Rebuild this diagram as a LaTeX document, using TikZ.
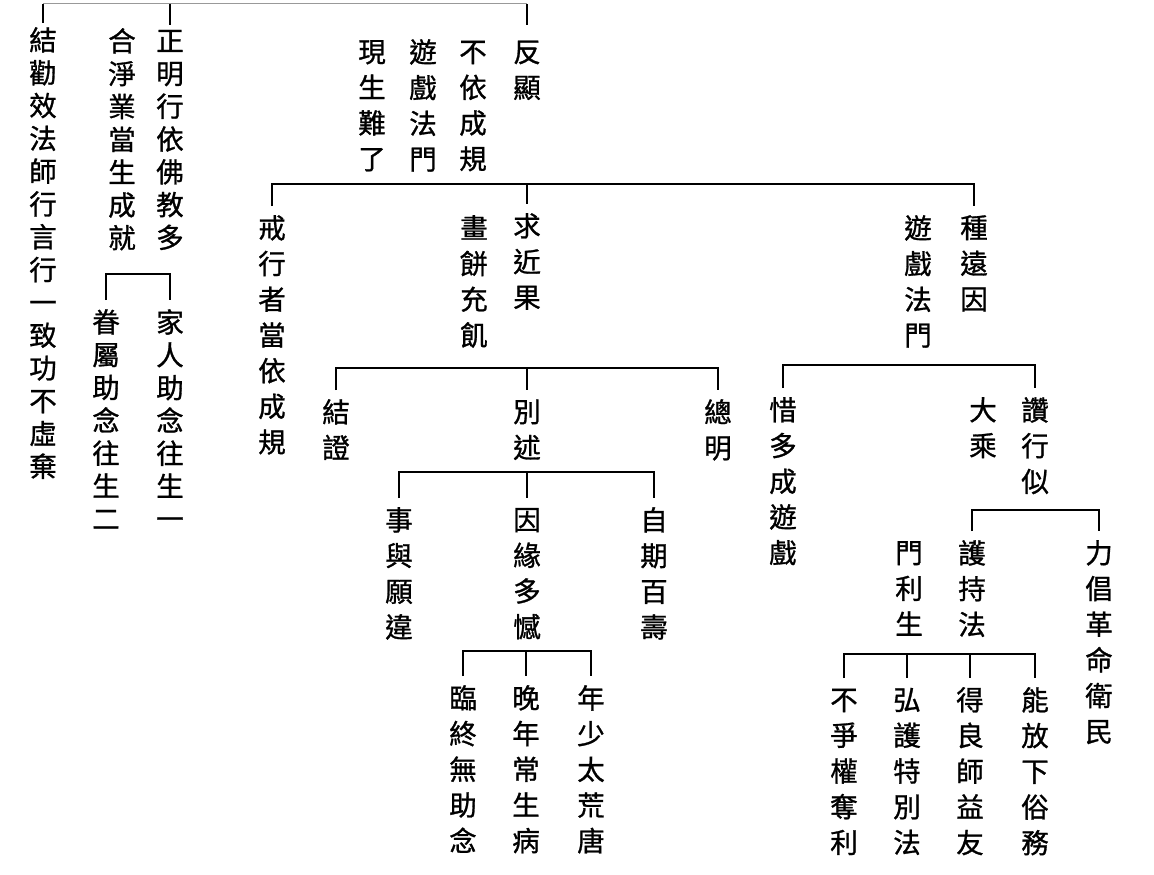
\documentclass[tikz,border=0pt]{standalone}
\usepackage{fontspec}
\newfontfamily\cjk[FakeBold=1]{Noto Sans CJK TC}
\newcommand\vstrut{\vrule height .83em depth .12em width 0pt}
\newcommand\vcol[1]{\vcolA#1\relax}
\def\vcolA#1{\vstrut#1\vcolB}
\def\vcolB#1{\ifx\relax#1\let\next\relax\else\def\next{\\\vstrut#1\vcolB}\fi\next}
\begin{document}
\begin{tikzpicture}[x=1pt,y=-1pt,
	colnode/.style={inner sep=0pt,anchor=north,align=center,font=\cjk\fontsize{27.5pt}{35.7pt}\selectfont},
	tight/.style={font=\cjk\fontsize{27.5pt}{32.8pt}\selectfont},
	bar/.style={line width=1.5pt,shorten <=9pt,shorten >=9pt},
	tick/.style={line width=1.5pt,shorten >=9pt}]
	\useasboundingbox (0,0) rectangle (1154,875);
	
	% left branches
	\node[colnode,tight] (jie) at (43,27) {\vcol{結勸效法師行言行一致功不虛棄}};
	\node[colnode,tight] (zheng) at (170,28) {\vcol{正明行依佛教多}};
	\node[colnode,tight] (he) at (122,28) {\vcol{合淨業當生成就}};
	\node[colnode,tight] (jia) at (170,309) {\vcol{家人助念往生一}};
	\node[colnode,tight] (juan) at (106,309) {\vcol{眷屬助念往生二}};
	
	% fan xian
	\node[colnode] (fan) at (527,39) {\vcol{反顯}};
	\node[colnode] (buyi) at (473,39) {\vcol{不依成規}};
	\node[colnode] (youxi) at (423,39) {\vcol{遊戲法門}};
	\node[colnode] (xiansheng) at (372,39) {\vcol{現生難了}};
	
	\node[colnode] (jiexing) at (272,215) {\vcol{戒行者當依成規}};
	\node[colnode] (qiu) at (527,213) {\vcol{求近果}};
	\node[colnode] (hua) at (474,215) {\vcol{畫餅充飢}};
	\node[colnode] (zhong) at (974,215) {\vcol{種遠因}};
	\node[colnode] (youxib) at (918,215) {\vcol{遊戲法門}};
	
	% qiu jin guo
	\node[colnode] (jiezheng) at (336,399) {\vcol{結證}};
	\node[colnode] (bieshu) at (527,399) {\vcol{別述}};
	\node[colnode] (zongming) at (718,399) {\vcol{總明}};
	
	\node[colnode] (shiyu) at (399,507) {\vcol{事與願違}};
	\node[colnode] (yinyuan) at (527,507) {\vcol{因緣多憾}};
	\node[colnode] (ziqi) at (654,507) {\vcol{自期百壽}};
	
	\node[colnode] (linzhong) at (463,685) {\vcol{臨終無助念}};
	\node[colnode] (wannian) at (526,685) {\vcol{晚年常生病}};
	\node[colnode] (nianshao) at (591,685) {\vcol{年少太荒唐}};
	
	% zhong yuan yin
	\node[colnode] (xiduo) at (783,397) {\vcol{惜多成遊戲}};
	\node[colnode] (zan) at (1035,397) {\vcol{讚行似}};
	\node[colnode] (dacheng) at (983,397) {\vcol{大乘}};
	
	\node[colnode] (huchi) at (972,540) {\vcol{護持法}};
	\node[colnode] (menli) at (909,540) {\vcol{門利生}};
	\node[colnode] (lichang) at (1099,540) {\vcol{力倡革命衛民}};
	
	\node[colnode] (buzheng) at (844,687) {\vcol{不爭權奪利}};
	\node[colnode] (honghu) at (907,687) {\vcol{弘護特別法}};
	\node[colnode] (deliang) at (970,687) {\vcol{得良師益友}};
	\node[colnode] (nengfang) at (1035,687) {\vcol{能放下俗務}};
	
	% bars
	\coordinate (b0) at (0,4);
	\coordinate (b1) at (0,184);
	\coordinate (b2) at (0,368);
	\coordinate (b3) at (0,365);
	\coordinate (b4) at (0,472);
	\coordinate (b5) at (0,510);
	\coordinate (b6) at (0,651);
	\coordinate (b7) at (0,654);
	\coordinate (b8) at (0,274);
	
	\draw[line width=1pt,black!40] (jie.north |- b0) -- (fan.north |- b0);
	\draw[tick,shorten >=4pt] (jie.north |- b0) -- (jie.north);
	\draw[tick,shorten >=3pt] (zheng.north |- b0) -- (zheng.north);
	\draw[tick,shorten >=14pt] (fan.north |- b0) -- (fan.north);
	
	\draw[bar] (juan.north) -- (juan.north |- b8) -| (jia.north);
	
	\draw[bar] (jiexing.north) -- (jiexing.north |- b1) -| (zhong.north);
	\draw[tick] (qiu.north |- b1) -- (qiu.north);
	
	\draw[bar] (jiezheng.north) -- (jiezheng.north |- b2) -| (zongming.north);
	\draw[tick] (bieshu.north |- b2) -- (bieshu.north);
	
	\draw[bar] (shiyu.north) -- (shiyu.north |- b4) -| (ziqi.north);
	\draw[tick] (yinyuan.north |- b4) -- (yinyuan.north);
	
	\draw[bar] (linzhong.north) -- (linzhong.north |- b6) -| (nianshao.north);
	\draw[tick] (wannian.north |- b6) -- (wannian.north);
	
	\draw[bar] (xiduo.north) -- (xiduo.north |- b3) -| (zan.north);
	
	\draw[bar] (huchi.north) -- (huchi.north |- b5) -| (lichang.north);
	
	\draw[bar] (buzheng.north) -- (buzheng.north |- b7) -| (nengfang.north);
	\foreach \n in {honghu,deliang}
		\draw[tick] (\n.north |- b7) -- (\n.north);
\end{tikzpicture}
\end{document}
